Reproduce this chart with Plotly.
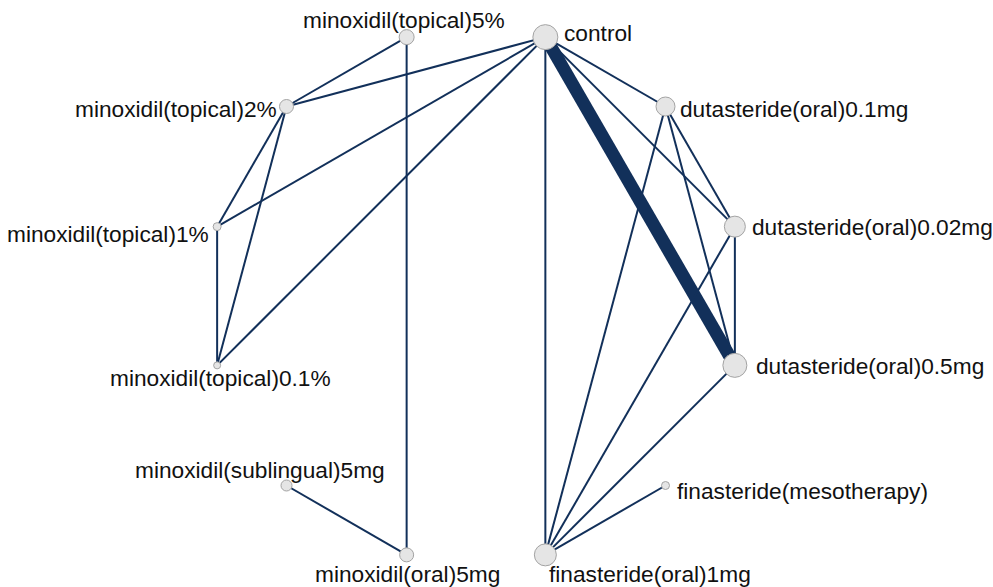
import math
import plotly.graph_objects as go

# ---- data ----
treatments = [
    "control",
    "dutasteride(oral)0.1mg",
    "dutasteride(oral)0.02mg",
    "dutasteride(oral)0.5mg",
    "finasteride(mesotherapy)",
    "finasteride(oral)1mg",
    "minoxidil(oral)5mg",
    "minoxidil(sublingual)5mg",
    "minoxidil(topical)0.1%",
    "minoxidil(topical)1%",
    "minoxidil(topical)2%",
    "minoxidil(topical)5%",
]
node_weight = [25, 19, 21, 24, 8, 22, 14, 11, 7, 8, 14, 15]

edge_from = [
    "control", "control", "control", "control", "control", "control", "control",
    "minoxidil(topical)5%", "minoxidil(topical)2%", "minoxidil(topical)2%",
    "minoxidil(topical)1%", "minoxidil(sublingual)5mg", "minoxidil(topical)5%",
    "dutasteride(oral)0.1mg", "dutasteride(oral)0.1mg", "dutasteride(oral)0.1mg",
    "dutasteride(oral)0.02mg", "dutasteride(oral)0.02mg", "dutasteride(oral)0.5mg",
    "finasteride(mesotherapy)",
]
edge_to = [
    "minoxidil(topical)2%", "minoxidil(topical)1%", "minoxidil(topical)0.1%",
    "dutasteride(oral)0.1mg", "dutasteride(oral)0.02mg", "dutasteride(oral)0.5mg",
    "finasteride(oral)1mg",
    "minoxidil(topical)2%", "minoxidil(topical)1%", "minoxidil(topical)0.1%",
    "minoxidil(topical)0.1%", "minoxidil(oral)5mg", "minoxidil(oral)5mg",
    "dutasteride(oral)0.02mg", "dutasteride(oral)0.5mg", "finasteride(oral)1mg",
    "dutasteride(oral)0.5mg", "finasteride(oral)1mg", "finasteride(oral)1mg",
    "finasteride(oral)1mg",
]
edge_weight = [1, 1, 1, 1, 1, 6, 1, 1, 1, 1, 1, 1, 1, 1, 1, 1, 1, 1, 1, 1]

# ---- layout of nodes on a circle ----
n = len(treatments)
angles = [math.radians(75 - 30 * i) for i in range(n)]
xs = [math.cos(a) for a in angles]
ys = [math.sin(a) for a in angles]
pos = {t: (xs[i], ys[i]) for i, t in enumerate(treatments)}

# label styles: (xanchor, yanchor, xshift, yshift)
label_style = {
    "control": ("left", "middle", 17, 4),
    "dutasteride(oral)0.1mg": ("left", "middle", 12, -2),
    "dutasteride(oral)0.02mg": ("left", "middle", 15, 0),
    "dutasteride(oral)0.5mg": ("left", "middle", 19, -1),
    "finasteride(mesotherapy)": ("left", "middle", 9, -5),
    "finasteride(oral)1mg": ("left", "middle", 2, -19),
    "minoxidil(oral)5mg": ("center", "middle", 1, -19),
    "minoxidil(sublingual)5mg": ("center", "middle", -27, 16),
    "minoxidil(topical)0.1%": ("center", "middle", 3, -13),
    "minoxidil(topical)1%": ("right", "middle", -6, -7),
    "minoxidil(topical)2%": ("right", "middle", -8, -2),
    "minoxidil(topical)5%": ("center", "middle", -3, 17),
}

fig = go.Figure()

line_color = "#12305a"
for a, b, w in zip(edge_from, edge_to, edge_weight):
    x0, y0 = pos[a]
    x1, y1 = pos[b]
    fig.add_trace(go.Scatter(
        x=[x0, x1], y=[y0, y1], mode="lines",
        line=dict(color=line_color, width=2.0 if w == 1 else 2.15 * w),
        hoverinfo="skip", showlegend=False,
    ))

fig.add_trace(go.Scatter(
    x=xs, y=ys, mode="markers",
    marker=dict(size=node_weight, color="#e5e5e5", opacity=1,
                line=dict(color="#a3a3a3", width=1)),
    text=treatments, hoverinfo="text", showlegend=False,
))

for t in treatments:
    xa, ya, dx, dy = label_style[t]
    fig.add_annotation(
        x=pos[t][0], y=pos[t][1], text=t, showarrow=False,
        xanchor=xa, yanchor=ya, xshift=dx, yshift=dy,
        font=dict(family="Liberation Sans, Arial, sans-serif", size=22.7, color="#111111"),
    )

R = 268.0
cx, cy = 476.0, 296.0
W, H = 993, 587
fig.update_layout(
    width=W, height=H,
    margin=dict(l=0, r=0, t=0, b=0),
    paper_bgcolor="white", plot_bgcolor="white",
    xaxis=dict(range=[-cx / R, (W - cx) / R], visible=False, fixedrange=True),
    yaxis=dict(range=[-(H - cy) / R, cy / R], visible=False, fixedrange=True),
)

fig.write_html(
    "out.html",
    config={"displayModeBar": False},
    post_script="document.body.style.margin='0';document.body.style.overflow='hidden';",
)
